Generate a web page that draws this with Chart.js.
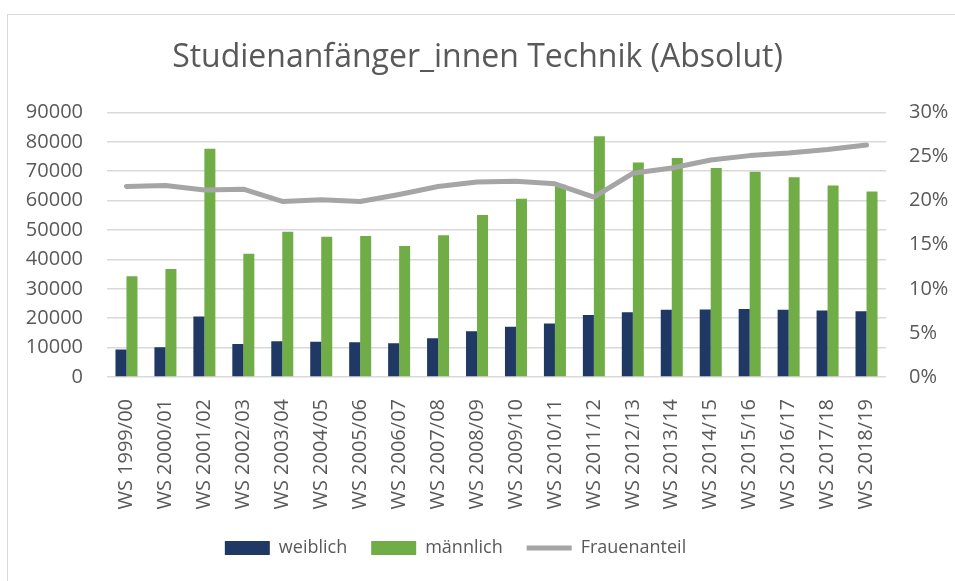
<!DOCTYPE html>
<html>
<head>
<meta charset="utf-8">
<script src="https://cdn.jsdelivr.net/npm/chart.js@4.4.0/dist/chart.umd.min.js"></script>
<style>
  body { margin: 0; background: #fff; overflow: hidden; }
  #wrap { position: relative; width: 955px; height: 581px; }
  #frame { position: absolute; left: 7px; top: 14px; width: 960px; height: 600px; border: 1.5px solid #d9d9d9; pointer-events: none; }
</style>
</head>
<body>
<div id="wrap">
  <canvas id="myChart" width="955" height="581"></canvas>
  <div id="frame"></div>
</div>
<script>
const semester = ['WS 1999/00', 'WS 2000/01', 'WS 2001/02', 'WS 2002/03', 'WS 2003/04', 'WS 2004/05', 'WS 2005/06', 'WS 2006/07', 'WS 2007/08', 'WS 2008/09',
                  'WS 2009/10', 'WS 2010/11', 'WS 2011/12', 'WS 2012/13', 'WS 2013/14', 'WS 2014/15', 'WS 2015/16', 'WS 2016/17', 'WS 2017/18', 'WS 2018/19']
const weiblich = [9340, 10100, 20600, 11200, 12200, 12000, 11800, 11500, 13200, 15600,
                  17100, 18200, 21100, 22000, 22900, 23000, 23100, 22900, 22600, 22400]
const maennlich = [34300, 36700, 77600, 41900, 49400, 47700, 48000, 44600, 48200, 55100,
                   60600, 65400, 81900, 73000, 74500, 71100, 69800, 67900, 65100, 63100]
// Frauenanteil in Prozent
const frauenanteil = [21.6, 21.7, 21.2, 21.3, 19.9, 20.1, 19.9, 20.7, 21.6, 22.1,
                      22.2, 21.9, 20.4, 23.1, 23.7, 24.6, 25.1, 25.4, 25.8, 26.3]

const txt = '#595959'
const fnt = "'Open Sans', sans-serif"

// legende etwas nach links schieben (wie im original)
const legendShift = {
    id: 'legendShift',
    afterLayout(chart) { chart.legend.right -= 44 }
}

const ctx = document.getElementById('myChart')
new Chart(ctx, {
    type: 'bar',
    data: {
        labels: semester,
        datasets: [{
            label: 'weiblich',
            data: weiblich,
            backgroundColor: '#203864',
            categoryPercentage: 0.565,
            barPercentage: 1.0,
            yAxisID: 'y',
            order: 1,
        }, {
            label: 'männlich',
            data: maennlich,
            backgroundColor: '#70ad47',
            categoryPercentage: 0.565,
            barPercentage: 1.0,
            yAxisID: 'y',
            order: 1,
        }, {
            type: 'line',
            label: 'Frauenanteil',
            data: frauenanteil,
            borderColor: '#a5a5a5',
            backgroundColor: '#a5a5a5',
            borderWidth: 5,
            borderCapStyle: 'round',
            borderJoinStyle: 'round',
            pointRadius: 0,
            tension: 0,
            yAxisID: 'y1',
            order: 0,
        }]
    },
    options: {
        responsive: false,
        animation: false,
        layout: { padding: { left: 0, right: 0, top: 39, bottom: 14 } },
        scales: {
            x: {
                grid: { display: false },
                border: { display: false },
                ticks: { color: txt, font: { family: fnt, size: 20 }, minRotation: 90, maxRotation: 90, padding: 14 },
                afterFit: (s) => { s.height = 138 },
            },
            y: {
                position: 'left',
                min: 0,
                max: 90000,
                border: { display: false },
                grid: { color: '#d9d9d9', lineWidth: 1.5, drawTicks: false },
                ticks: { stepSize: 10000, color: txt, font: { family: fnt, size: 20 }, padding: 24,
                         callback: (v) => String(v) },
                afterFit: (s) => { s.width = 107 },
            },
            y1: {
                position: 'right',
                min: 0,
                max: 30,
                border: { display: false },
                grid: { display: false, drawTicks: false },
                ticks: { stepSize: 5, color: txt, font: { family: fnt, size: 20 }, padding: 23,
                         callback: (v) => v + '%' },
                afterFit: (s) => { s.width = 69 },
            },
        },
        plugins: {
            title: {
                display: true,
                text: 'Studienanfänger_innen Technik (Absolut)',
                color: txt,
                font: { family: fnt, size: 32, weight: 'normal' },
                padding: { top: 0, bottom: 35 },
            },
            legend: {
                position: 'bottom',
                labels: {
                    color: txt,
                    font: { family: fnt, size: 18 },
                    usePointStyle: true,
                    pointStyleWidth: 45,
                    boxHeight: 14,
                    padding: 24,
                    generateLabels: (chart) => {
                        const items = Chart.defaults.plugins.legend.labels.generateLabels(chart)
                        items.forEach(it => {
                            it.pointStyle = it.datasetIndex === 2 ? 'line' : 'rect'
                        })
                        return items
                    },
                    sort: (a, b) => a.datasetIndex - b.datasetIndex,
                },
            },
            tooltip: { enabled: false },
        }
    },
    plugins: [legendShift]
})
</script>
</body>
</html>
